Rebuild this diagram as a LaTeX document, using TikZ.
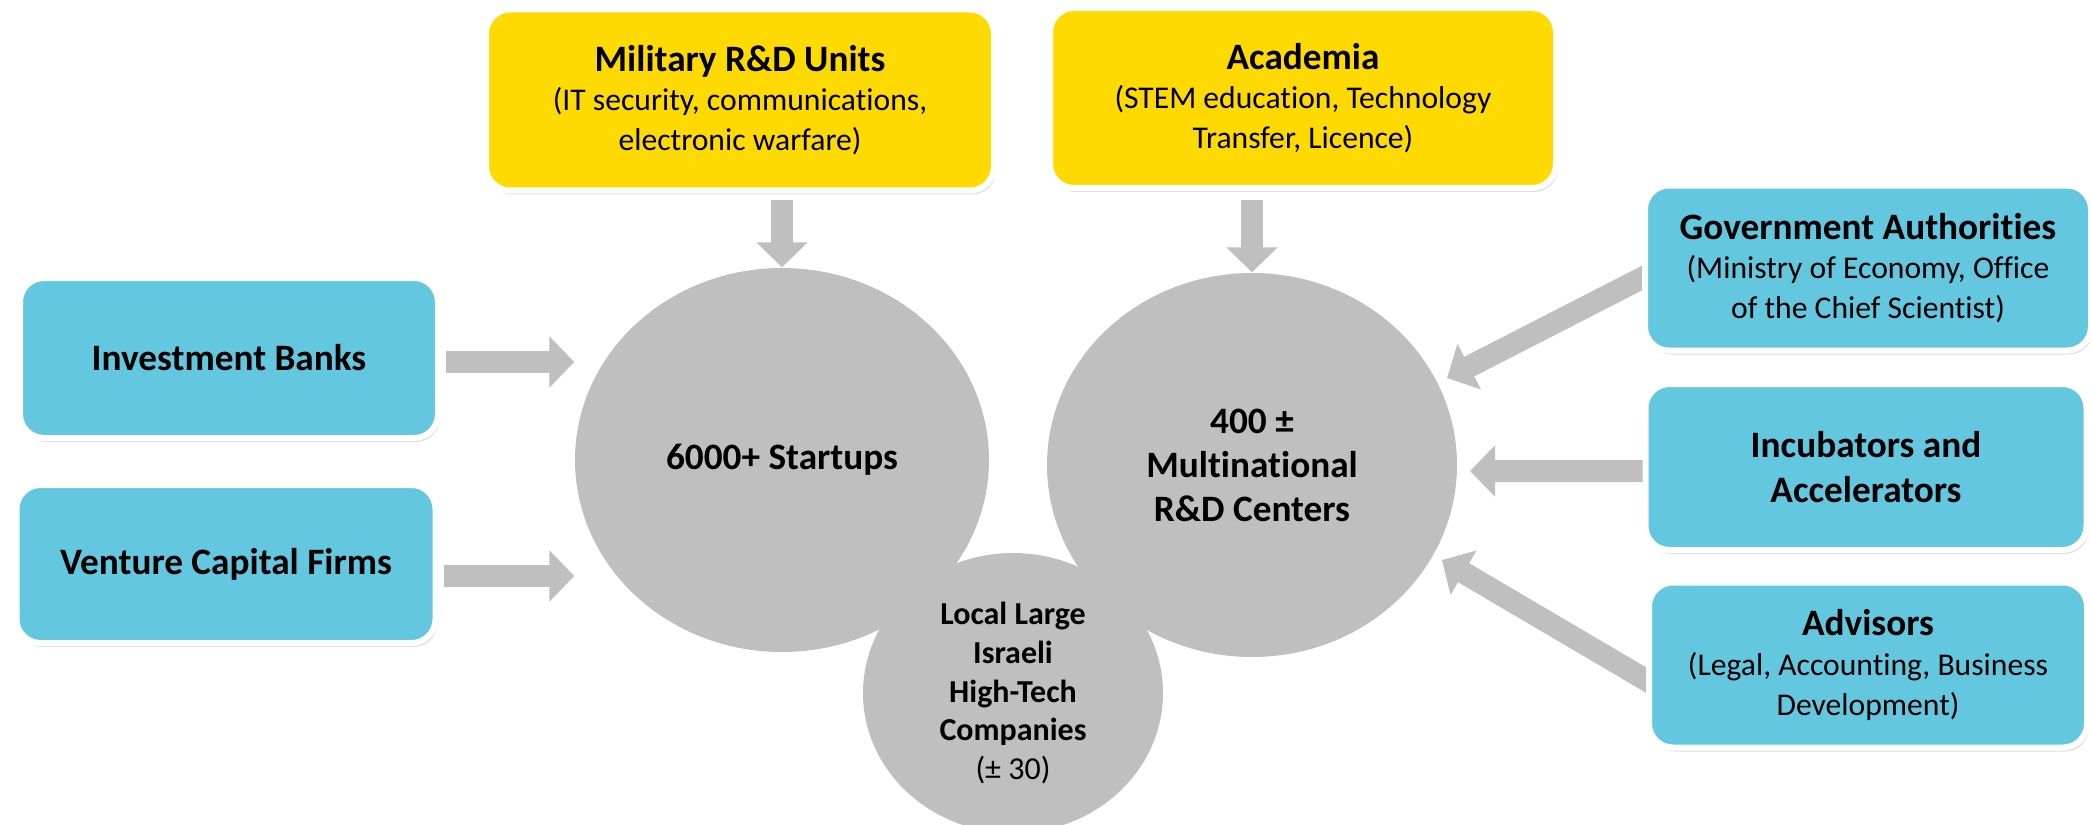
\documentclass[tikz,border=0pt]{standalone}
\usepackage{fontspec}
\setmainfont{Carlito}[Ligatures=NoCommon]
\usetikzlibrary{arrows.meta,shapes.geometric,shadows,backgrounds}
\definecolor{boxcyan}{RGB}{99,199,223}
\definecolor{boxyellow}{RGB}{255,218,0}
\definecolor{hubgray}{RGB}{191,191,191}
\newcommand{\boxhead}[1]{{\fontsize{10.6}{11.3}\selectfont\bfseries #1}}

\begin{document}
\begin{tikzpicture}[x=0.1mm,y=-0.1mm,
  card/.style={rectangle,rounded corners=2.4mm,draw=white,line width=0.6mm,
    inner sep=0pt,align=center,font=\fontsize{9}{11.3}\selectfont,
    drop shadow={shadow xshift=0.2mm,shadow yshift=-0.4mm,opacity=0.25}},
  cyancard/.style={card,fill=boxcyan},
  yellowcard/.style={card,fill=boxyellow},
  hub/.style={ellipse,fill=hubgray,inner sep=0pt,align=center,
    font=\fontsize{10.6}{12.5}\selectfont\bfseries},
  feed/.style={draw=hubgray,line width=2.2mm,
    -{Triangle[width=5mm,length=2.5mm]}}]
  \useasboundingbox (0,0) rectangle (2091,825);

  \node[hub,minimum width=41.4mm,minimum height=38.4mm] (START) at (782,460)
    {6000+ Startups};
  \node[hub,minimum width=41mm,minimum height=38.4mm] (MNC) at (1252,465)
    {400 ±\\Multinational\\R\&D Centers};
  \node[hub,minimum width=30mm,minimum height=28mm,
    font=\fontsize{9.1}{11}\selectfont\bfseries] (LOCAL) at (1013,693)
    {Local Large\\Israeli\\High-Tech\\Companies\\\mdseries(± 30)};

  \node[yellowcard,minimum width=50.8mm,minimum height=18.1mm] (MIL) at (740,100)
    {\boxhead{Military R\&D Units}\\(IT security, communications,\\electronic warfare)};
  \node[yellowcard,minimum width=50.6mm,minimum height=18mm] (ACAD) at (1303,98)
    {\boxhead{Academia}\\(STEM education, Technology\\Transfer, Licence)};
  \node[cyancard,minimum width=41.8mm,minimum height=16mm] (IB) at (229,358)
    {\boxhead{Investment Banks}};
  \node[cyancard,minimum width=41.9mm,minimum height=15.8mm] (VC) at (226,564)
    {\boxhead{Venture Capital Firms}};
  \node[cyancard,minimum width=44.6mm,minimum height=16.5mm] (GOV) at (1868,268)
    {\boxhead{Government Authorities}\\(Ministry of Economy, Office\\of the Chief Scientist)};
  \node[cyancard,minimum width=44.1mm,minimum height=16.6mm,
    font=\fontsize{10.6}{13}\selectfont\bfseries] (INC) at (1866,467)
    {Incubators and\\Accelerators};
  \node[cyancard,minimum width=43.8mm,minimum height=16.5mm] (ADV) at (1868,665)
    {\boxhead{Advisors}\\(Legal, Accounting, Business\\Development)};

  \begin{scope}[on background layer]
    \coordinate (GOVtip) at (1447,378);
    \coordinate (INCtip) at (1470,471);
    \coordinate (ADVtip) at (1442,560);

    \draw[feed,shorten <=0.7mm]
      (MIL.south -| START.north) -- (START.north);
    \draw[feed,shorten <=0.9mm]
      (ACAD.south -| MNC.north) -- (MNC.north);
    \draw[feed,shorten <=0.5mm]
      ([yshift=-0.4mm]IB.east) -- ([yshift=-0.4mm]IB.east -| START.west);
    \draw[feed,shorten <=0.5mm]
      ([yshift=-1.2mm]VC.east) -- ([yshift=-1.2mm]VC.east -| START.west);
    \draw[feed,shorten <=-0.8mm]
      ([yshift=-1mm]GOV.west) -- (GOVtip);
    \draw[feed,shorten <=-0.8mm]
      ([yshift=-0.4mm]INC.west) -- (INCtip);
    \draw[feed,shorten <=-0.8mm]
      ([yshift=-1.5mm]ADV.west) -- (ADVtip);
  \end{scope}
\end{tikzpicture}
\end{document}
